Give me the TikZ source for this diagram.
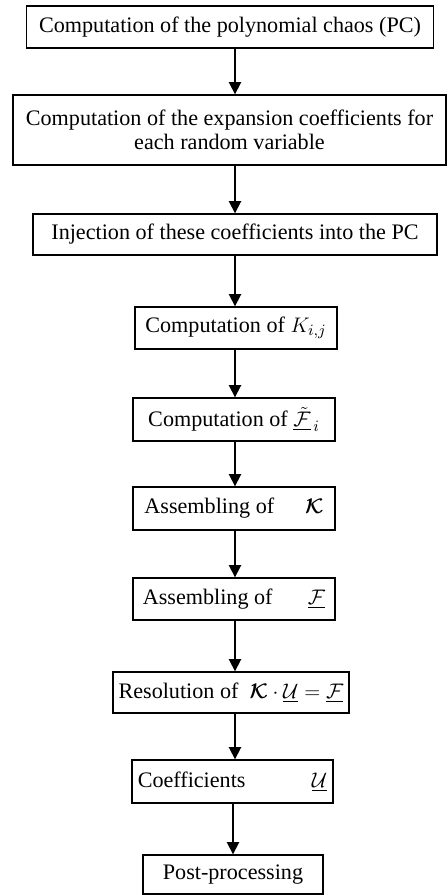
\documentclass[tikz,border=0pt]{standalone}
\usepackage{amsmath}
\usepackage{amssymb}
\usepackage{bm}
\usepackage{fontspec}
\setmainfont{Liberation Serif}
\usetikzlibrary{arrows.meta}

\tikzset{
  stepbox/.style={draw=black, line width=0.8pt, inner sep=0pt, align=center,
    font=\fontsize{12.6}{14}\selectfont},
  flow/.style={black, line width=1pt, -{Triangle[width=7pt,length=7pt]}}
}

\begin{document}
\begin{tikzpicture}[x=0.02cm, y=-0.02cm]
\useasboundingbox (0,0) rectangle (447,895);
\coordinate (ax) at (235,0);
\coordinate (bx) at (233,0);

\node[stepbox, minimum width=8.14cm, minimum height=0.84cm] (pc) at (230,27)
  {Computation of the polynomial chaos (PC)};
\node[stepbox, minimum width=8.66cm, minimum height=1.4cm] (coef) at (229.5,130)
  {Computation of the expansion coefficients for\\ each random variable};
\node[stepbox, minimum width=8.08cm, minimum height=0.82cm] (inj) at (235,234.5)
  {Injection of these coefficients into the PC};
\node[stepbox, minimum width=4.04cm, minimum height=0.84cm] (kij) at (236,328)
  {Computation of $K_{i,j}$};
\node[stepbox, minimum width=4.04cm, minimum height=0.86cm] (fi) at (234,419.5)
  {Computation of $\underline{\tilde{\mathcal{F}}}_{\,i}$};
\node[stepbox, minimum width=4.04cm, minimum height=0.86cm] (asK) at (234,508.5)
  {Assembling of\hspace{1.4em}$\bm{\mathcal{K}}$};
\node[stepbox, minimum width=4.04cm, minimum height=0.84cm] (asF) at (234,599)
  {Assembling of\hspace{1.6em}$\underline{\mathcal{F}}$};
\node[stepbox, minimum width=4.72cm, minimum height=0.82cm] (res) at (231,692.5)
  {Resolution of\hspace{0.5em}$\bm{\mathcal{K}}\cdot\underline{\mathcal{U}}=\underline{\mathcal{F}}$};
\node[stepbox, minimum width=4.02cm, minimum height=0.86cm] (cU) at (232.5,781.5)
  {Coefficients\hspace{3em}$\underline{\mathcal{U}}$};
\node[stepbox, minimum width=3.6cm, minimum height=0.78cm] (post) at (233,874.5)
  {Post-processing};

% arrows between the steps
\draw[flow] (pc.south -| ax) -- (coef.north -| ax);
\draw[flow] (coef.south -| ax) -- (inj.north -| ax);
\draw[flow] (inj.south -| ax) -- (kij.north -| ax);
\draw[flow] (kij.south -| ax) -- (fi.north -| ax);
\draw[flow] (fi.south -| ax) -- (asK.north -| ax);
\draw[flow] (asK.south -| ax) -- (asF.north -| ax);
\draw[flow] (asF.south -| ax) -- (res.north -| ax);
\draw[flow] (res.south -| ax) -- (cU.north -| ax);
\draw[flow] (cU.south -| bx) -- (post.north -| bx);
\end{tikzpicture}
\end{document}
